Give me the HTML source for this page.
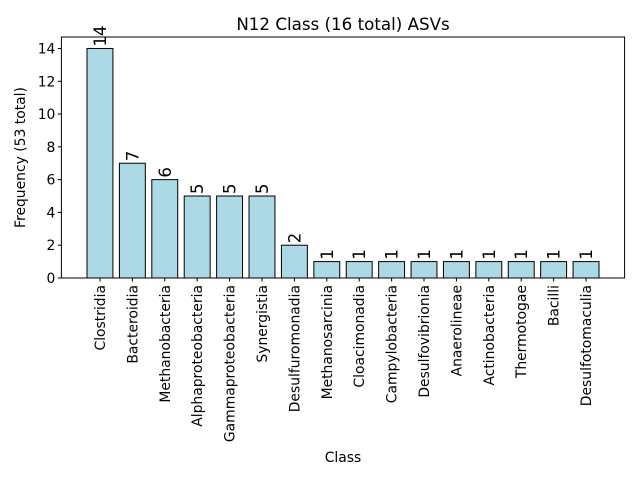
<!DOCTYPE html>
<html><head><meta charset="utf-8"><style>body{margin:0;background:#fff}svg{display:block;font-family:"DejaVu Sans","Liberation Sans",sans-serif}</style></head>
<body>
<svg id="chart" width="640" height="480" xmlns="http://www.w3.org/2000/svg"></svg>
<script>
const categories=["Clostridia","Bacteroidia","Methanobacteria","Alphaproteobacteria","Gammaproteobacteria","Synergistia","Desulfuromonadia","Methanosarcinia","Cloacimonadia","Campylobacteria","Desulfovibrionia","Anaerolineae","Actinobacteria","Thermotogae","Bacilli","Desulfotomaculia"];
const values=[14,7,6,5,5,5,2,1,1,1,1,1,1,1,1,1];
const yTicks=[0,2,4,6,8,10,12,14];
const svg=document.getElementById('chart');
const NS="http://www.w3.org/2000/svg";
const L=61.4,R=624.6,T=37,B=278;
const n=categories.length;
const maxV=Math.max(...values);
const xmin=-0.4-(n-0.2)*0.05,xmax=n-1+0.4+(n-0.2)*0.05;
const x=i=>L+(i-xmin)/(xmax-xmin)*(R-L);
const ymax=maxV*1.05;
const y=v=>B-v/ymax*(B-T);
const bw=0.8*(R-L)/(xmax-xmin);
function mk(tag,attrs,txt){const e=document.createElementNS(NS,tag);for(const k in attrs)e.setAttribute(k,attrs[k]);if(txt!==undefined)e.textContent=txt;svg.appendChild(e);return e;}
values.forEach((v,i)=>{
  const r=mk('rect',{x:x(i)-bw/2,y:y(v),width:bw,height:B-y(v),fill:'#add8e6',stroke:'#000','stroke-width':1});
  
  
  const t=mk('text',{transform:`translate(${x(i)+6},${y(v)-2}) rotate(-90)`,'font-size':16.5},String(v));
  
  
  mk('line',{x1:x(i),x2:x(i),y1:B,y2:B+3.5,stroke:'#000'});
  const c=mk('text',{transform:`translate(${x(i)+5},${B+7}) rotate(-90)`,'font-size':13.9,'text-anchor':'end'},categories[i]);
  
  
});
yTicks.forEach(v=>{
  mk('line',{x1:L-3.5,x2:L,y1:y(v),y2:y(v),stroke:'#000'});
  const t=mk('text',{x:L-6,y:y(v)+5,'font-size':13.9,'text-anchor':'end'},String(v));
  
  
});
const f=mk('rect',{x:L,y:T,width:R-L,height:B-T,fill:'none',stroke:'#000','stroke-width':1});

const ti=mk('text',{x:(L+R)/2,y:30,'font-size':16.7,'text-anchor':'middle'},'N12 Class (16 total) ASVs');

const xl=mk('text',{x:(L+R)/2,y:462,'font-size':13.9,'text-anchor':'middle'},'Class');

const yl=mk('text',{transform:`translate(25,${(T+B)/2}) rotate(-90)`,'font-size':13.9,'text-anchor':'middle'},'Frequency (53 total)');

</script>
</body></html>
